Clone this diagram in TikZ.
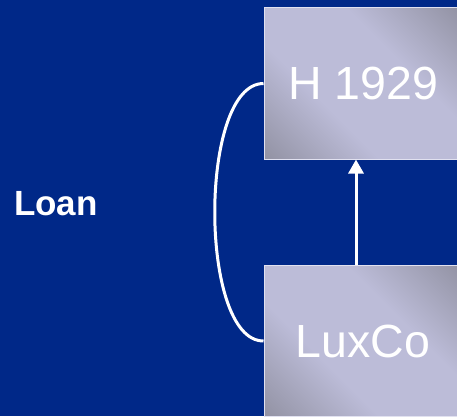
\documentclass[tikz,border=0pt]{standalone}
\usepackage{fontspec}
\setmainfont{Liberation Sans}
\usetikzlibrary{arrows.meta}
\definecolor{bgnavy}{RGB}{0,40,136}
\definecolor{boxlight}{RGB}{188,188,216}
\definecolor{boxdark}{RGB}{145,145,162}
\definecolor{boxedge}{RGB}{225,225,240}
\pgfdeclarehorizontalshading{boxshade}{100bp}{color(0bp)=(boxdark); color(14bp)=(boxdark); color(38bp)=(boxlight); color(62bp)=(boxlight); color(86bp)=(boxdark); color(100bp)=(boxdark)}
\tikzset{
  entity/.style={draw=boxedge, line width=1pt, shading=boxshade, shading angle=45,
    minimum width=198pt, minimum height=151pt, inner sep=0pt,
    text=white, font=\fontsize{46.5}{50}\selectfont},
  link/.style={draw=white, line width=3pt},
}
\begin{document}
\begin{tikzpicture}[x=1pt,y=1pt]
\fill[bgnavy] (0,0) rectangle (457,416);
\useasboundingbox (0,0) rectangle (457,416);
\node[entity] (h) at (363,332.5) {H 1929};
\node[entity] (lux) at (363,75) {LuxCo};
\node[anchor=base, text=white, font=\bfseries\fontsize{35}{40}\selectfont] (loan) at (56,201) {Loan};
\draw[link, -{Triangle[width=15pt,length=14pt]}] ([xshift=-7pt]lux.north) -- ([xshift=-7pt]h.south);
\draw[link] (h.west) .. controls ([xshift=-65pt]h.west) and ([xshift=-65pt]lux.west) .. (lux.west);
\end{tikzpicture}
\end{document}
